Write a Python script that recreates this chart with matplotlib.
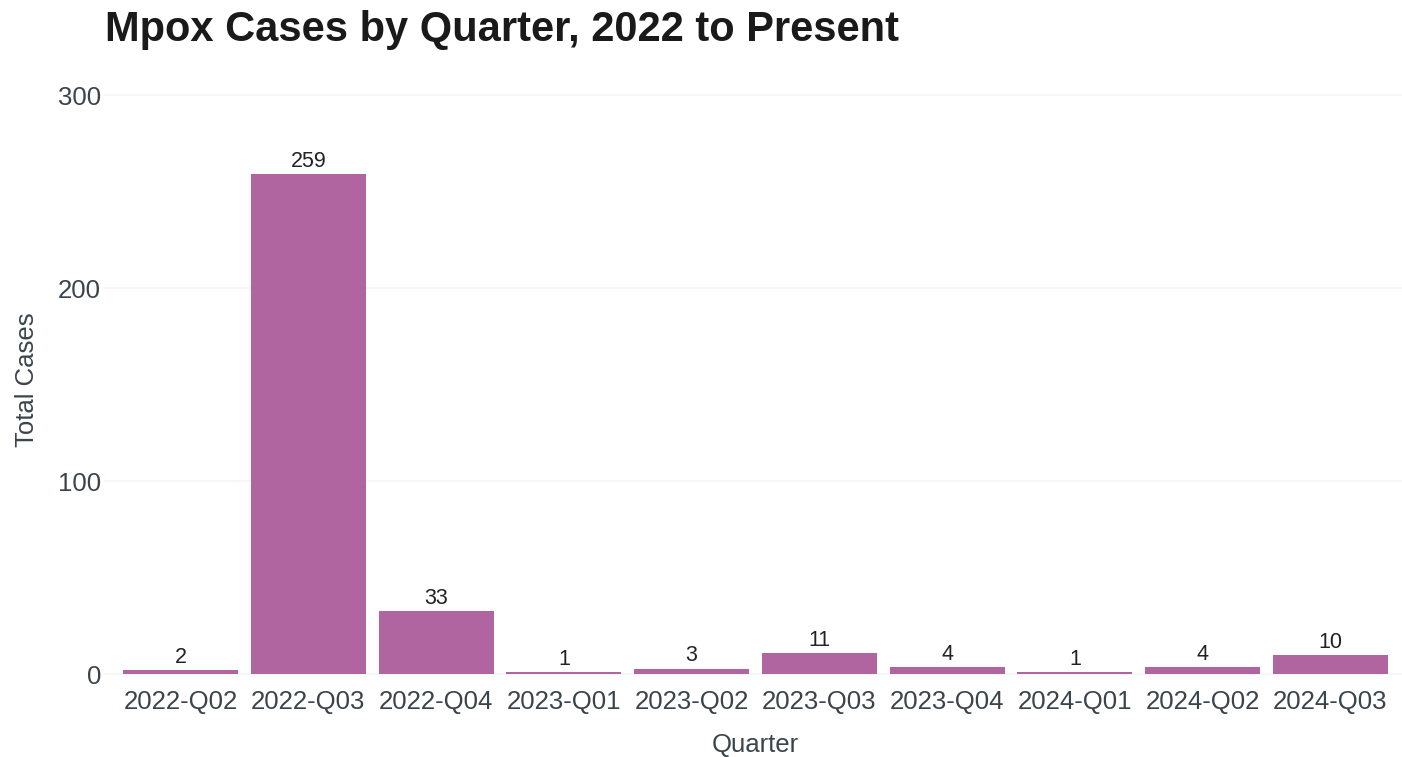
import matplotlib.pyplot as plt
import numpy as np

plt.rcParams['font.family'] = ['Liberation Sans', 'DejaVu Sans']

quarters = ["2022-Q02", "2022-Q03", "2022-Q04", "2023-Q01", "2023-Q02",
            "2023-Q03", "2023-Q04", "2024-Q01", "2024-Q02", "2024-Q03"]
cases = [2, 259, 33, 1, 3, 11, 4, 1, 4, 10]
y_ticks = [0, 100, 200, 300]

bar_color = "#B065A1"
tick_color = "#3A454B"

fig = plt.figure(figsize=(14.02, 7.57), dpi=100)
ax = fig.add_axes([104 / 1402, 1 - 684 / 757, 1303 / 1402, 608 / 757])

x = np.arange(len(quarters))
ax.bar(x, cases, width=0.9, color=bar_color, zorder=2)
for xi, v in zip(x, cases):
    ax.annotate(str(v), (xi, v), xytext=(0, 1.5), textcoords="offset points",
                ha="center", va="bottom", fontsize=15.5, color="#222222")

ax.set_xlim(-0.6, len(quarters) - 0.4)
ax.set_ylim(-5, 310)
ax.set_xticks(x)
ax.set_xticklabels(quarters)
ax.set_yticks(y_ticks)
ax.tick_params(axis="both", length=0, labelsize=18.5, labelcolor=tick_color)
ax.tick_params(axis="x", pad=4)
ax.tick_params(axis="y", pad=2)

ax.grid(True, axis="y", color="#f5f5f5", linewidth=1.2, zorder=0)
for s in ax.spines.values():
    s.set_visible(False)

ax.set_xlabel("Quarter", fontsize=18.5, color=tick_color, labelpad=14)
ax.set_ylabel("Total Cases", fontsize=18.5, color=tick_color, labelpad=14)

fig.text(105 / 1402, 1 - 10 / 757, "Mpox Cases by Quarter, 2022 to Present",
         fontsize=30, fontweight="bold", color="#1a1a1a", ha="left", va="top")

fig.savefig("out.png", dpi=100)
